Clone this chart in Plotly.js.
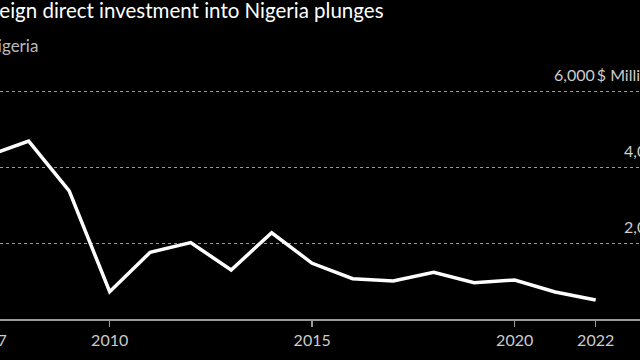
<!DOCTYPE html>
<html>
<head>
<meta charset="utf-8">
<script src="https://cdn.plot.ly/plotly-3.0.1.min.js"></script>
<style>
html, body { margin: 0; padding: 0; background: #000; overflow: hidden; width: 640px; height: 360px; }
#chart { position: absolute; left: -30px; top: 0; width: 720px; height: 360px; }
</style>
</head>
<body>
<div id="chart"></div>
<script>
// Data ($ millions)
const years = [2007, 2008, 2009, 2010, 2011, 2012, 2013, 2014, 2015, 2016, 2017, 2018, 2019, 2020, 2021, 2022];
const fdiValues = [4300, 4680, 3370, 720, 1755, 2010, 1290, 2270, 1466, 1061, 1000, 1229, 955, 1026, 711, 500];
const xTickVals = [2007, 2010, 2015, 2020, 2022];
const yTickVals = [2000, 4000, 6000];
const yTickText = ["2,000", "4,000", "6,000\u2009$ Millions"];
const titleText = "Foreign direct investment into Nigeria plunges";
const subtitleText = "Nigeria";

const FONT = "Lato, 'Open Sans', sans-serif";

const trace = {
  x: years,
  y: fdiValues,
  type: "scatter",
  mode: "lines",
  line: { color: "#ffffff", width: 3.5 },
  hoverinfo: "skip"
};

// y tick labels sit above their gridlines, right-aligned, placed on the y scale
const yLabelAnnotations = yTickVals.map((v, i) => ({
  text: yTickText[i],
  xref: "paper", yref: "y",
  x: 1.0, y: v,
  xanchor: "right", yanchor: "bottom",
  yshift: 5,
  align: "right",
  showarrow: false,
  font: { family: FONT, size: 16, color: "#cccccc" }
}));

const layout = {
  width: 720,
  height: 360,
  paper_bgcolor: "#000000",
  plot_bgcolor: "#000000",
  margin: { l: 0, r: 23, t: 53, b: 41, pad: 0 },
  showlegend: false,
  font: { family: FONT, color: "#cccccc", size: 16 },
  title: {
    text: titleText,
    font: { family: FONT, size: 20.5, color: "#ffffff" },
    x: 0, xref: "container", xanchor: "left",
    y: 0.97, yref: "container", yanchor: "middle"
  },
  xaxis: {
    range: [2006.551, 2023.761],
    tickvals: xTickVals,
    ticktext: xTickVals.map(String),
    ticks: "outside",
    ticklen: 6,
    tickwidth: 1.5,
    tickcolor: "#999999",
    ticklabeloverflow: "allow",
    showline: true,
    linecolor: "#999999",
    linewidth: 1.5,
    showgrid: false,
    zeroline: false,
    tickfont: { family: FONT, size: 16, color: "#cccccc" },
    fixedrange: true
  },
  yaxis: {
    range: [0, 7000],
    side: "right",
    tickvals: yTickVals,
    showticklabels: false,
    ticks: "",
    showgrid: true,
    gridcolor: "#999999",
    griddash: "dot",
    gridwidth: 1,
    zeroline: false,
    showline: false,
    fixedrange: true
  },
  annotations: [
    {
      text: subtitleText,
      xref: "paper", yref: "paper",
      x: 0.019, y: (319 - 46) / (319 - 53),
      xanchor: "left", yanchor: "middle",
      showarrow: false,
      font: { family: FONT, size: 17, color: "#bbbbbb" }
    }
  ].concat(yLabelAnnotations)
};

Plotly.newPlot("chart", [trace], layout, { staticPlot: true, displayModeBar: false });
</script>
</body>
</html>
